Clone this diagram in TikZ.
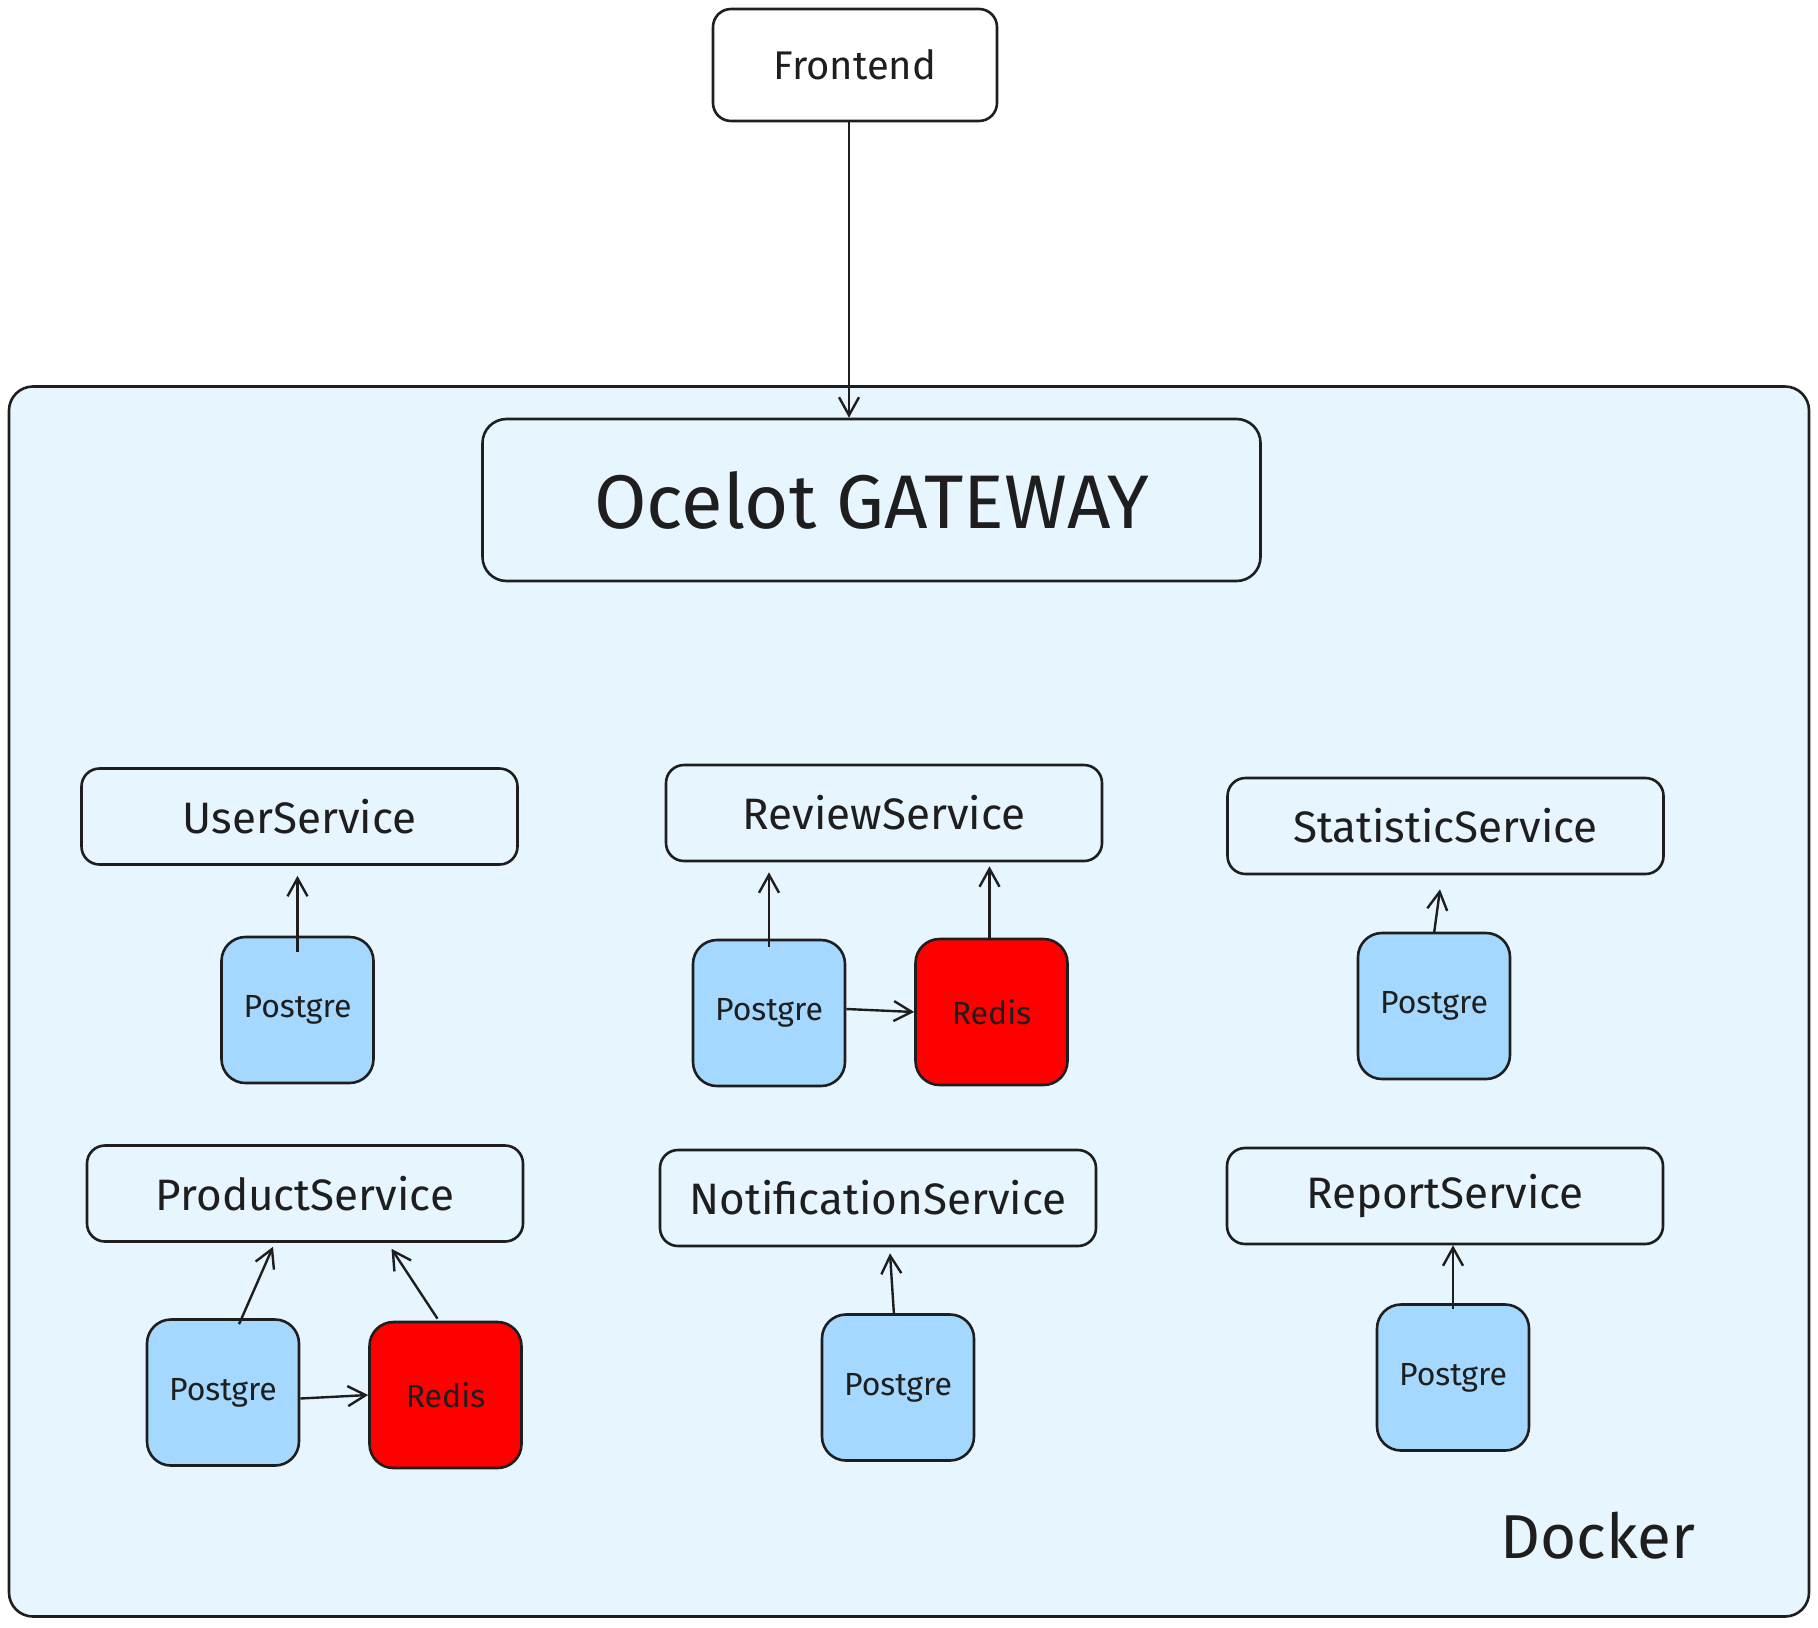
\documentclass[tikz,border=0pt]{standalone}
\usepackage{fontspec}
\setmainfont{Fira Sans}
\usetikzlibrary{arrows.meta}
\definecolor{ink}{HTML}{1E1E1E}
\definecolor{dockerbg}{HTML}{E7F5FF}
\definecolor{pgblue}{HTML}{A5D8FF}
\definecolor{redisred}{HTML}{FF0000}
\begin{document}
\begin{tikzpicture}[x=0.5pt,y=-0.5pt]
  \tikzstyle{box}=[rectangle,draw=ink,line width=1.3pt,rounded corners=9pt,text=ink]
  \tikzstyle{service}=[box,minimum width=218pt,minimum height=48pt,font=\fontsize{22}{26}\selectfont]
  \tikzstyle{db}=[box,minimum width=76pt,minimum height=73pt,rounded corners=12pt,font=\fontsize{16}{19}\selectfont]
  \tikzstyle{pg}=[db,fill=pgblue]
  \tikzstyle{redis}=[db,fill=redisred]
  \tikzstyle{arr}=[draw=ink,line width=1.2pt,-{Straight Barb[length=9pt,width=10pt]}]
  \useasboundingbox (0,0) rectangle (1818,1627);
  \node[box,fill=dockerbg,minimum width=900pt,minimum height=615pt,rounded corners=12pt] (docker) at (909,1001.5) {};
  \node[text=ink,font=\fontsize{31}{36}\selectfont] (dockerlbl) at (1598,1536) {Docker};
  \node[box,minimum width=142pt,minimum height=56pt,font=\fontsize{20}{24}\selectfont] (fe) at (855,65) {Frontend};
  \node[box,minimum width=389pt,minimum height=81pt,rounded corners=12pt,font=\fontsize{38}{44}\selectfont] (gw) at (871.5,500) {Ocelot GATEWAY};

  \node[service] (us) at (299.5,816.5) {UserService};
  \node[service] (rs) at (884,813) {ReviewService};
  \node[service] (ss) at (1445.5,826) {StatisticService};
  \node[service] (ps) at (305,1193.5) {ProductService};
  \node[service] (ns) at (878,1198) {NotificationService};
  \node[service] (rps) at (1445,1196) {ReportService};

  \node[pg] (upg) at (297.5,1010) {Postgre};
  \node[pg] (rpg) at (769,1013) {Postgre};
  \node[redis] (rrd) at (991.5,1012) {Redis};
  \node[pg] (spg) at (1434,1006) {Postgre};
  \node[pg] (ppg) at (223,1392.5) {Postgre};
  \node[redis] (prd) at (445.5,1395) {Redis};
  \node[pg] (npg) at (898,1387.5) {Postgre};
  \node[pg] (repg) at (1453,1377.5) {Postgre};

  \draw[arr] ([xshift=-3pt]fe.south) -- ([xshift=-3pt]fe.south |- gw.north);
  \draw[arr] ([yshift=-8pt]upg.north) -- ([yshift=-5pt]upg.north |- us.south);
  \draw[arr] ([yshift=-4pt]rpg.north) -- ([yshift=-5pt]rpg.north |- rs.south);
  \draw[arr] ([xshift=-1pt,yshift=-1pt]rrd.north) -- ([xshift=-1pt,yshift=-2pt]rrd.north |- rs.south);
  \draw[arr] ([yshift=2pt]rpg.east) -- (rrd.west);
  \draw[arr] ([yshift=-1pt]spg.north) -- ([xshift=3pt,yshift=-7pt]spg.north |- ss.south);
  \draw[arr] ([xshift=8pt,yshift=-3pt]ppg.north) -- ([xshift=25pt,yshift=-2pt]ppg.north |- ps.south);
  \draw[arr] ([xshift=-4pt,yshift=1pt]prd.north) -- ([xshift=-27pt,yshift=-3pt]prd.north |- ps.south);
  \draw[arr] ([yshift=-3pt]ppg.east) -- (prd.west);
  \draw[arr] ([xshift=-2pt,yshift=-1pt]npg.north) -- ([xshift=-4pt,yshift=-3pt]npg.north |- ns.south);
  \draw[arr] ([yshift=-3pt]repg.north) -- (repg.north |- rps.south);
\end{tikzpicture}
\end{document}
